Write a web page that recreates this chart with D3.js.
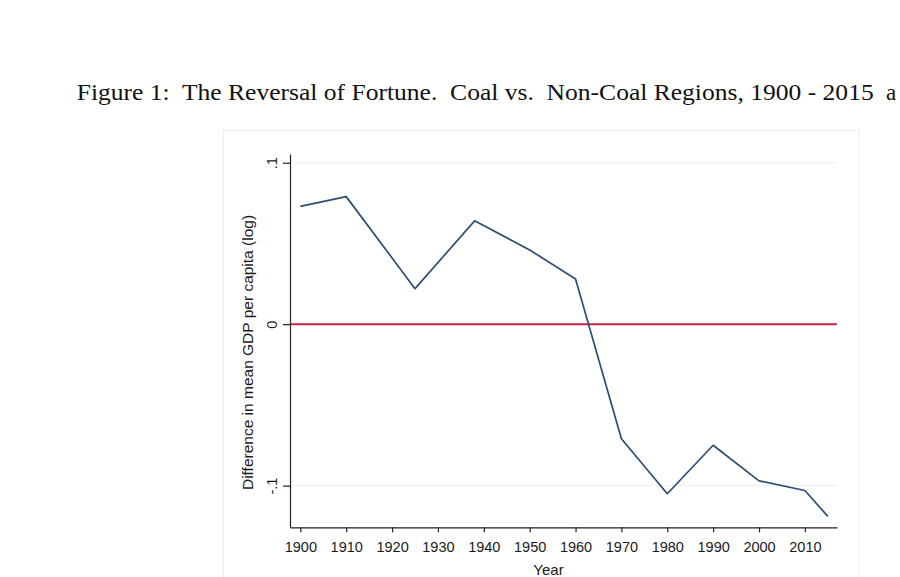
<!DOCTYPE html>
<html>
<head>
<meta charset="utf-8">
<script src="https://cdn.jsdelivr.net/npm/d3@7"></script>
<style>
  body { margin: 0; background: #fff; }
  svg { display: block; }
</style>
</head>
<body>
<script>

// data
var years = [1900, 1910, 1925, 1938, 1950, 1960, 1970, 1980, 1990, 2000, 2010, 2015];
var diff  = [0.073, 0.079, 0.022, 0.064, 0.046, 0.028, -0.071, -0.105, -0.075, -0.097, -0.103, -0.119];

var xTicks = [1900, 1910, 1920, 1930, 1940, 1950, 1960, 1970, 1980, 1990, 2000, 2010];
var yTicks = [0.1, 0, -0.1];
var yTickLabels = [".1", "0", "-.1"];

var titleMain = "Figure 1:  The Reversal of Fortune.  Coal vs.  Non-Coal Regions, 1900 - 2015";
var titleRest = "a";
var xTitle = "Year";
var yTitle = "Difference in mean GDP per capita (log)";

var W = 900, H = 577;

var svg = d3.select("body").append("svg")
    .attr("width", W)
    .attr("height", H);

// title (LaTeX caption above the graph)
svg.append("text")
    .attr("x", 76.7)
    .attr("y", 99.5)
    .attr("textLength", 797)
    .attr("lengthAdjust", "spacingAndGlyphs")
    .style("white-space", "pre")
    .style("font-family", "'Liberation Serif', 'DejaVu Serif', serif")
    .style("font-size", "23px")
    .attr("fill", "#111")
    .text(titleMain);
svg.append("text")
    .attr("x", 886)
    .attr("y", 99.5)
    .style("font-family", "'Liberation Serif', 'DejaVu Serif', serif")
    .style("font-size", "23px")
    .attr("fill", "#111")
    .text(titleRest);

// faint graph frame
svg.append("rect")
    .attr("x", 223.5).attr("y", 130.5)
    .attr("width", 635.5).attr("height", 470)
    .attr("fill", "none")
    .attr("stroke", "#eceff2");

var x = d3.scaleLinear().domain([1897.75, 2017]).range([290, 837]);
var y = d3.scaleLinear().domain([-0.1258, 0.1054]).range([527.3, 154]);

// grid lines
svg.append("g").selectAll("line")
    .data(yTicks.filter(function(d){ return d !== 0; }))
  .enter().append("line")
    .attr("x1", x.range()[0]).attr("x2", x.range()[1])
    .attr("y1", function(d){ return y(d); })
    .attr("y2", function(d){ return y(d); })
    .attr("stroke", "#eef0f2")
    .attr("stroke-width", 1);

// zero reference line
svg.append("line")
    .attr("x1", x.range()[0]).attr("x2", x.range()[1])
    .attr("y1", y(0)).attr("y2", y(0))
    .attr("stroke", "#c52448")
    .attr("stroke-width", 2);

// the series
var pts = years.map(function(yr, i){ return [yr, diff[i]]; });
var line = d3.line()
    .x(function(d){ return x(d[0]); })
    .y(function(d){ return y(d[1]); });

svg.append("path")
    .datum(pts)
    .attr("d", line)
    .attr("fill", "none")
    .attr("stroke", "#2d4e70")
    .attr("stroke-width", 1.7)
    .attr("stroke-linejoin", "round");

// axes
var xAxis = svg.append("g")
    .attr("transform", "translate(0," + y.range()[0] + ")")
    .call(d3.axisBottom(x).tickValues(xTicks).tickFormat(d3.format("d"))
        .tickSize(5).tickSizeOuter(0).tickPadding(9));

var yAxis = svg.append("g")
    .attr("transform", "translate(" + x.range()[0] + ",0)")
    .call(d3.axisLeft(y).tickValues(yTicks)
        .tickFormat(function(d, i){ return yTickLabels[i]; })
        .tickSize(7).tickSizeOuter(0));

[xAxis, yAxis].forEach(function(g){
  g.select(".domain").attr("stroke", "#222").attr("stroke-width", 1.2);
  g.selectAll(".tick line").attr("stroke", "#222").attr("stroke-width", 1.2);
  g.selectAll(".tick text")
    .attr("fill", "#1a1a1a")
    .style("font-family", "'Liberation Sans', Arial, sans-serif")
    .style("font-size", "14.5px");
});

yAxis.selectAll(".tick text")
    .attr("transform", "rotate(-90)")
    .attr("x", 0)
    .attr("y", -18)
    .attr("dy", "0.35em")
    .attr("text-anchor", "middle");

// axis titles
svg.append("text")
    .attr("x", 548.5)
    .attr("y", 575)
    .attr("text-anchor", "middle")
    .style("font-family", "'Liberation Sans', Arial, sans-serif")
    .style("font-size", "15px")
    .attr("fill", "#1a1a1a")
    .text(xTitle);

svg.append("text")
    .attr("transform", "translate(252.5,352.5) rotate(-90)")
    .attr("text-anchor", "middle")
    .style("font-family", "'Liberation Sans', Arial, sans-serif")
    .style("font-size", "15.5px")
    .attr("fill", "#1a1a1a")
    .text(yTitle);

</script>
</body>
</html>
